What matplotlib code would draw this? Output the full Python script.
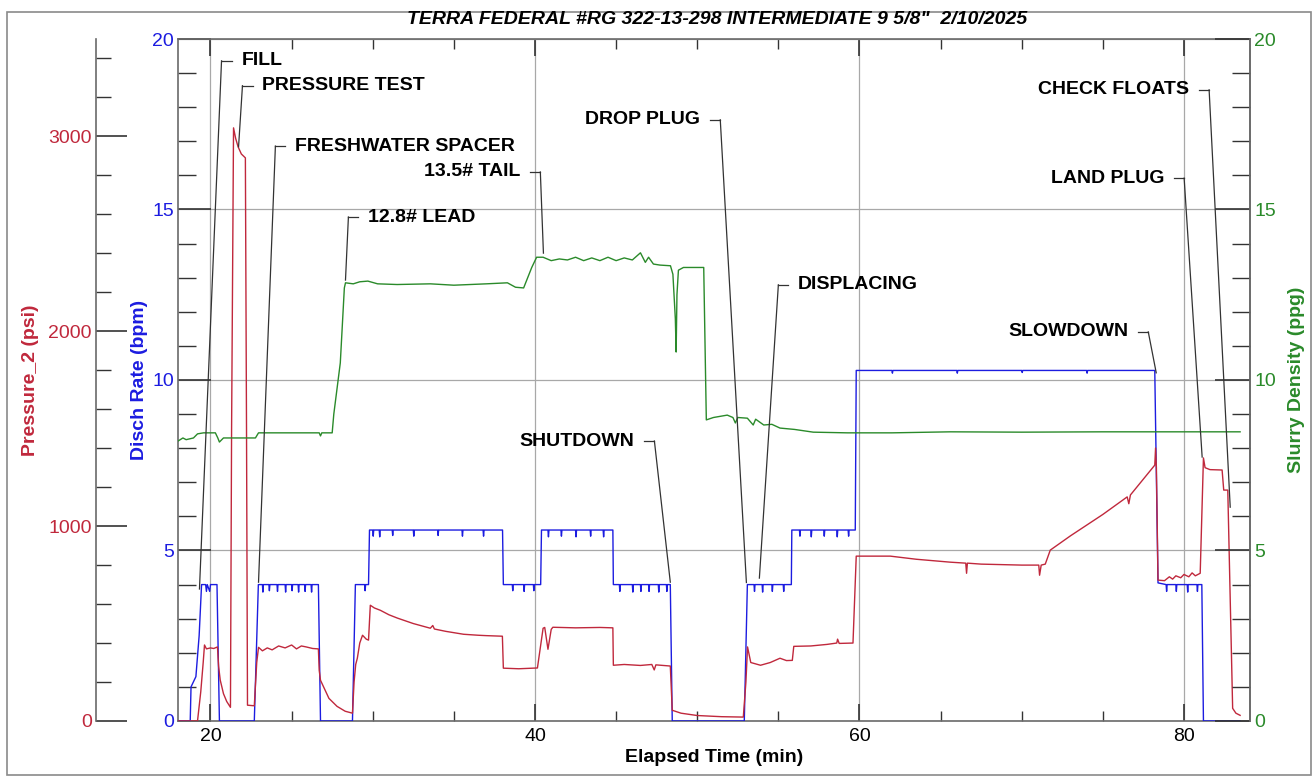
import matplotlib
matplotlib.use("Agg")
import matplotlib.pyplot as plt
from matplotlib.patches import Rectangle
from matplotlib.ticker import MultipleLocator

plt.rcParams['font.family'] = ['Liberation Sans', 'DejaVu Sans']

# --- colours / sizes
RED = '#c0283c'
BLUE = '#1c1ce0'
GREEN = '#2a8a2a'
GRID = '#a8a8a8'
AXC = '#6a6a6a'
TICK_FONT = 14
LABEL_FONT = 14
NOTE_FONT = 14

TITLE = 'TERRA FEDERAL #RG 322-13-298 INTERMEDIATE 9 5/8"  2/10/2025'

# --- disch rate (bpm)
rate_t = [18.0, 18.75, 18.8, 19.1, 19.3, 19.45, 19.7, 19.75, 19.8, 19.95, 20.0, 20.4, 20.55,
          22.7, 22.95, 23.2, 23.23, 23.26, 23.6, 23.63, 23.66, 24.1, 24.13, 24.16, 24.6, 24.63,
          24.66, 25.0, 25.03, 25.06, 25.4, 25.43, 25.46, 25.8, 25.83, 25.86, 26.2, 26.23, 26.26,
          26.65, 26.78,
          28.75, 28.93, 29.5, 29.53, 29.56, 29.74, 29.8, 30.0, 30.03, 30.06, 30.4, 30.43, 30.46,
          31.2, 31.23, 31.26, 32.5, 32.53, 32.56, 34.0, 34.03, 34.06, 35.5, 35.53, 35.56, 36.8,
          36.83, 36.86, 38.0, 38.05,
          38.6, 38.63, 38.66, 39.3, 39.33, 39.36, 39.9, 39.93, 39.96, 40.35, 40.4,
          40.8, 40.83, 40.86, 41.6, 41.63, 41.66, 42.5, 42.53, 42.56, 43.4, 43.43, 43.46, 44.2,
          44.23, 44.26, 44.8, 44.83,
          45.2, 45.23, 45.26, 46.0, 46.03, 46.06, 46.5, 46.53, 46.56, 47.0, 47.03, 47.06, 47.6,
          47.63, 47.66, 48.1, 48.13, 48.16, 48.34, 48.46,
          52.9, 53.09, 53.5, 53.53, 53.56, 54.0, 54.03, 54.06, 54.6, 54.63, 54.66, 55.3, 55.33,
          55.36, 55.8, 55.83, 56.3, 56.33, 56.36, 57.0, 57.03, 57.06, 57.8, 57.83, 57.86, 58.6,
          58.63, 58.66, 59.3, 59.33, 59.36, 59.74, 59.8,
          62.0, 62.03, 62.06, 66.0, 66.03, 66.06, 70.0, 70.03, 70.06, 74.0, 74.03, 74.06, 78.2,
          78.4, 78.9, 78.93, 78.96, 79.5, 79.53, 79.56, 80.2, 80.23, 80.26, 80.8, 80.83, 80.86,
          81.1, 81.2, 83.46]
rate_v = [0, 0, 1.0, 1.3, 2.5, 4.0, 4.0, 3.8, 4.0, 3.8, 4.0, 4.0, 0,
          0, 4.0, 4.0, 3.78, 4.0, 4.0, 3.82, 4.0, 4.0, 3.8, 4.0, 4.0, 3.78,
          4.0, 4.0, 3.82, 4.0, 4.0, 3.78, 4.0, 4.0, 3.8, 4.0, 4.0, 3.78, 4.0,
          4.0, 0,
          0, 4.0, 4.0, 3.82, 4.0, 4.0, 5.6, 5.6, 5.42, 5.6, 5.6, 5.4, 5.6,
          5.6, 5.44, 5.6, 5.6, 5.42, 5.6, 5.6, 5.44, 5.6, 5.6, 5.42, 5.6, 5.6,
          5.42, 5.6, 5.6, 4.0,
          4.0, 3.82, 4.0, 4.0, 3.8, 4.0, 4.0, 3.82, 4.0, 4.0, 5.6,
          5.6, 5.4, 5.6, 5.6, 5.42, 5.6, 5.6, 5.4, 5.6, 5.6, 5.42, 5.6, 5.6,
          5.4, 5.6, 5.6, 4.0,
          4.0, 3.8, 4.0, 4.0, 3.78, 4.0, 4.0, 3.8, 4.0, 4.0, 3.8, 4.0, 4.0,
          3.78, 4.0, 4.0, 3.8, 4.0, 4.0, 0,
          0, 4.0, 4.0, 3.8, 4.0, 4.0, 3.78, 4.0, 4.0, 3.8, 4.0, 4.0, 3.8,
          4.0, 4.0, 5.6, 5.6, 5.42, 5.6, 5.6, 5.4, 5.6, 5.6, 5.42, 5.6, 5.6,
          5.4, 5.6, 5.6, 5.42, 5.6, 5.6, 10.28,
          10.28, 10.2, 10.28, 10.28, 10.2, 10.28, 10.28, 10.22, 10.28, 10.28, 10.2, 10.28, 10.28,
          4.05, 4.0, 3.8, 4.0, 4.0, 3.8, 4.0, 4.0, 3.78, 4.0, 4.0, 3.8, 4.0,
          4.0, 0, 0]

# --- pressure (psi)
pres_t = [18.0, 19.2, 19.4, 19.55, 19.63, 19.75, 20.0, 20.2, 20.43, 20.5, 20.6, 20.8, 21.0,
          21.23, 21.3, 21.42, 21.55, 21.7, 21.9, 22.15, 22.22, 22.28, 22.7, 22.85, 22.96, 23.2,
          23.5, 23.8, 24.2, 24.6, 25.0, 25.3, 25.6, 25.9, 26.3, 26.65, 26.7, 26.78, 27.0, 27.3,
          27.8, 28.3, 28.75, 28.85, 28.95, 29.05, 29.2, 29.37, 29.6, 29.74, 29.85, 30.1, 30.47,
          31.0, 31.52, 32.5, 33.55, 33.7, 33.8, 34.5, 35.6, 36.5, 37.0, 37.99, 38.05, 39.0,
          40.15, 40.5, 40.6, 40.8, 41.0, 41.1, 42.5, 44.0, 44.8, 44.83, 45.5, 46.5, 47.2, 47.35,
          47.45, 48.34, 48.46, 49.0, 50.0, 51.5, 52.84, 53.0, 53.1, 53.3, 53.9, 54.5, 55.1,
          55.5, 55.86, 55.95, 57.0, 58.0, 58.6, 58.65, 58.75, 59.6, 59.8, 61.9, 63.5, 65.6,
          66.55, 66.6, 66.65, 67.5, 70.0, 71.05, 71.1, 71.2, 71.45, 71.76, 73.0, 75.0, 76.5,
          76.6, 76.7, 78.2, 78.25, 78.3, 78.4, 78.8, 79.1, 79.3, 79.5, 79.8, 80.0, 80.3, 80.5,
          80.7, 81.0, 81.2, 81.3, 81.6, 82.35, 82.45, 82.7, 83.0, 83.2, 83.46]
pres_v = [0, 0, 150, 300, 390, 370, 375, 372, 380, 280, 210, 140, 100,
          70, 1500, 3044, 2990, 2947, 2910, 2890, 1500, 81, 78, 300, 378, 360,
          375, 365, 385, 375, 390, 370, 385, 380, 372, 370, 260, 209, 170, 116,
          75, 50, 40, 200, 290, 322, 400, 440, 420, 415, 594, 580, 568,
          545, 528, 500, 476, 490, 472, 460, 445, 440, 438, 435, 271, 268,
          272, 476, 480, 368, 470, 481, 478, 480, 478, 286, 290, 285, 290, 262,
          288, 282, 55, 40, 28, 22, 20, 200, 380, 300, 286, 300, 322,
          310, 311, 383, 385, 393, 400, 420, 398, 400, 846, 846, 830, 815,
          810, 758, 810, 805, 800, 800, 748, 800, 805, 877, 950, 1060, 1150,
          1115, 1160, 1313, 1401, 1300, 723, 720, 740, 728, 745, 735, 752, 740, 760,
          745, 758, 1350, 1300, 1290, 1288, 1185, 1185, 65, 40, 29]

# --- slurry density (ppg)
dens_t = [18.0, 18.3, 18.5, 18.95, 19.2, 19.57, 20.3, 20.45, 20.55, 20.8, 22.77, 22.96, 26.7,
          26.78, 26.86, 27.5, 27.6, 28.0, 28.25, 28.32, 28.8, 29.2, 29.7, 30.3, 31.5, 33.55,
          35.0, 37.0, 38.3, 38.8, 39.3, 39.8, 40.1, 40.5, 41.0, 41.5, 42.0, 42.5, 43.0, 43.5,
          44.0, 44.5, 45.0, 45.5, 46.0, 46.5, 46.8, 47.0, 47.3, 47.7, 48.35, 48.5, 48.65, 48.7,
          48.75, 48.84, 49.15, 50.4, 50.5, 50.56, 51.0, 51.85, 52.2, 52.35, 52.5, 53.09, 53.45,
          53.6, 54.1, 54.6, 55.1, 56.0, 57.15, 59.25, 62.0, 65.6, 70.0, 75.0, 80.0, 83.46]
dens_v = [8.21, 8.3, 8.25, 8.3, 8.42, 8.45, 8.45, 8.3, 8.18, 8.3, 8.3, 8.45, 8.45,
          8.36, 8.45, 8.45, 9.0, 10.5, 12.7, 12.85, 12.82, 12.88, 12.9, 12.82, 12.8, 12.82,
          12.78, 12.82, 12.85, 12.72, 12.7, 13.3, 13.6, 13.6, 13.5, 13.55, 13.52, 13.6, 13.5, 13.58,
          13.5, 13.6, 13.5, 13.58, 13.52, 13.73, 13.45, 13.6, 13.4, 13.37, 13.35, 13.1, 11.8, 10.82,
          12.5, 13.22, 13.3, 13.3, 10.5, 8.83, 8.9, 8.97, 8.9, 8.74, 8.9, 8.88, 8.68,
          8.85, 8.68, 8.7, 8.59, 8.55, 8.47, 8.45, 8.45, 8.48, 8.47, 8.48, 8.48, 8.48]

# --- event notes: text, target (min, bpm), elbow (min, bpm), side of the leader
note_text = ['FILL', 'PRESSURE TEST', 'FRESHWATER SPACER', '12.8# LEAD', '13.5# TAIL',
             'SHUTDOWN', 'DROP PLUG', 'DISPLACING', 'SLOWDOWN', 'LAND PLUG', 'CHECK FLOATS']
note_at = [(19.32, 3.87), (21.73, 16.84), (22.96, 4.07), (28.32, 12.93), (40.52, 13.72),
           (48.34, 4.07), (53.03, 4.06), (53.83, 4.19), (78.29, 10.21), (81.12, 7.74),
           (82.85, 6.27)]
note_elbow = [(20.68, 19.36), (21.97, 18.63), (24.0, 16.86), (28.5, 14.78), (40.33, 16.1),
              (47.36, 8.21), (51.42, 17.63), (55.0, 12.79), (77.8, 11.41), (80.01, 15.92),
              (81.55, 18.51)]
note_side = ['L', 'L', 'L', 'L', 'R', 'R', 'R', 'L', 'R', 'R', 'R']

fig = plt.figure(figsize=(13.14, 7.77), dpi=100)
ax = fig.add_axes([0.1355, 0.0721, 0.8158, 0.8777])
ax_p = ax.twinx()
ax_g = ax.twinx()

ax.set_xlim(18.0, 84.07)
ax.set_ylim(0, 20)
ax_p.set_ylim(0, 3500)
ax_g.set_ylim(0, 20)

ax.plot(rate_t, rate_v, color=BLUE, lw=1.0, zorder=3)
ax_p.plot(pres_t, pres_v, color=RED, lw=1.0, zorder=3)
ax_g.plot(dens_t, dens_v, color=GREEN, lw=1.0, zorder=3)

# grid
ax.set_axisbelow(True)
ax.grid(True, which='major', color=GRID, lw=0.9)

# spines
for s in ax.spines.values():
    s.set_color(AXC)
    s.set_linewidth(1.2)
for name in ['top', 'bottom', 'right']:
    ax_p.spines[name].set_visible(False)
ax_p.spines['left'].set_visible(True)
ax_p.spines['left'].set_position(('axes', -0.0765))
ax_p.spines['left'].set_color(AXC)
ax_p.spines['left'].set_linewidth(1.2)
for name in ['top', 'bottom', 'left']:
    ax_g.spines[name].set_visible(False)
ax_g.spines['right'].set_color(AXC)
ax_g.spines['right'].set_linewidth(1.2)

# x axis
ax.xaxis.set_major_locator(MultipleLocator(20))
ax.xaxis.set_minor_locator(MultipleLocator(5))
ax.tick_params(axis='x', which='both', direction='in', top=True, colors='#333333',
               labelcolor='black', labelsize=TICK_FONT, pad=5)
ax.tick_params(axis='x', which='major', length=12, width=1.2)
ax.tick_params(axis='x', which='minor', length=7, width=1.0)

# blue axis
ax.yaxis.set_major_locator(MultipleLocator(5))
ax.yaxis.set_minor_locator(MultipleLocator(1))
ax.tick_params(axis='y', which='both', direction='in', right=False, colors='#333333',
               labelcolor=BLUE, labelsize=TICK_FONT, pad=3)
ax.tick_params(axis='y', which='major', length=24, width=1.2)
ax.tick_params(axis='y', which='minor', length=13, width=1.0)

# pressure axis
ax_p.yaxis.set_ticks_position('left')
ax_p.yaxis.set_label_position('left')
ax_p.yaxis.set_major_locator(MultipleLocator(1000))
ax_p.yaxis.set_minor_locator(MultipleLocator(200))
ax_p.tick_params(axis='y', which='both', direction='in', colors='#333333',
                 labelcolor=RED, labelsize=TICK_FONT, pad=3)
ax_p.tick_params(axis='y', which='major', length=22, width=1.2)
ax_p.tick_params(axis='y', which='minor', length=11, width=1.0)

# density axis
ax_g.yaxis.set_major_locator(MultipleLocator(5))
ax_g.yaxis.set_minor_locator(MultipleLocator(1))
ax_g.tick_params(axis='y', which='both', direction='in', colors='#333333',
                 labelcolor=GREEN, labelsize=TICK_FONT, pad=3)
ax_g.tick_params(axis='y', which='major', length=25, width=1.2)
ax_g.tick_params(axis='y', which='minor', length=13, width=1.0)

# labels
ax.set_xlabel('Elapsed Time (min)', fontsize=LABEL_FONT, fontweight='bold', va='center')
ax.xaxis.set_label_coords(0.5, -0.054)
ax.set_ylabel('Disch Rate (bpm)', fontsize=LABEL_FONT, fontweight='bold', color=BLUE, va='center')
ax.yaxis.set_label_coords(-0.0355, 0.5)
ax_p.set_ylabel('Pressure_2 (psi)', fontsize=LABEL_FONT, fontweight='bold', color=RED, va='center')
ax_p.yaxis.set_label_coords(-0.138, 0.5)
ax_g.set_ylabel('Slurry Density (ppg)', fontsize=LABEL_FONT, fontweight='bold', color=GREEN,
                va='center', rotation=90)
ax_g.yaxis.set_label_coords(1.043, 0.5)

fig.text(0.546, 0.9755, TITLE, ha='center', va='center', fontsize=14,
         fontweight='bold', fontstyle='italic')

# event notes with leader lines
seg, gap = 0.62, 0.6
for txt, (tx, tv), (ex, ev), side in zip(note_text, note_at, note_elbow, note_side):
    ax_g.plot([tx, ex], [tv, ev], color='#333333', lw=0.9, zorder=4)
    if side == 'L':
        ax_g.plot([ex, ex + seg], [ev, ev], color='#333333', lw=0.9, zorder=4)
        ax_g.text(ex + seg + gap, ev, txt, ha='left', va='center', fontsize=NOTE_FONT,
                  fontweight='bold', zorder=5)
    else:
        ax_g.plot([ex, ex - seg], [ev, ev], color='#333333', lw=0.9, zorder=4)
        ax_g.text(ex - seg - gap, ev, txt, ha='right', va='center', fontsize=NOTE_FONT,
                  fontweight='bold', zorder=5)

fig.add_artist(Rectangle((0.005, 0.003), 0.993, 0.982, fill=False, ec='#8a8a8a', lw=1.2,
                         transform=fig.transFigure))

fig.savefig('out.png', dpi=100, facecolor='white')
